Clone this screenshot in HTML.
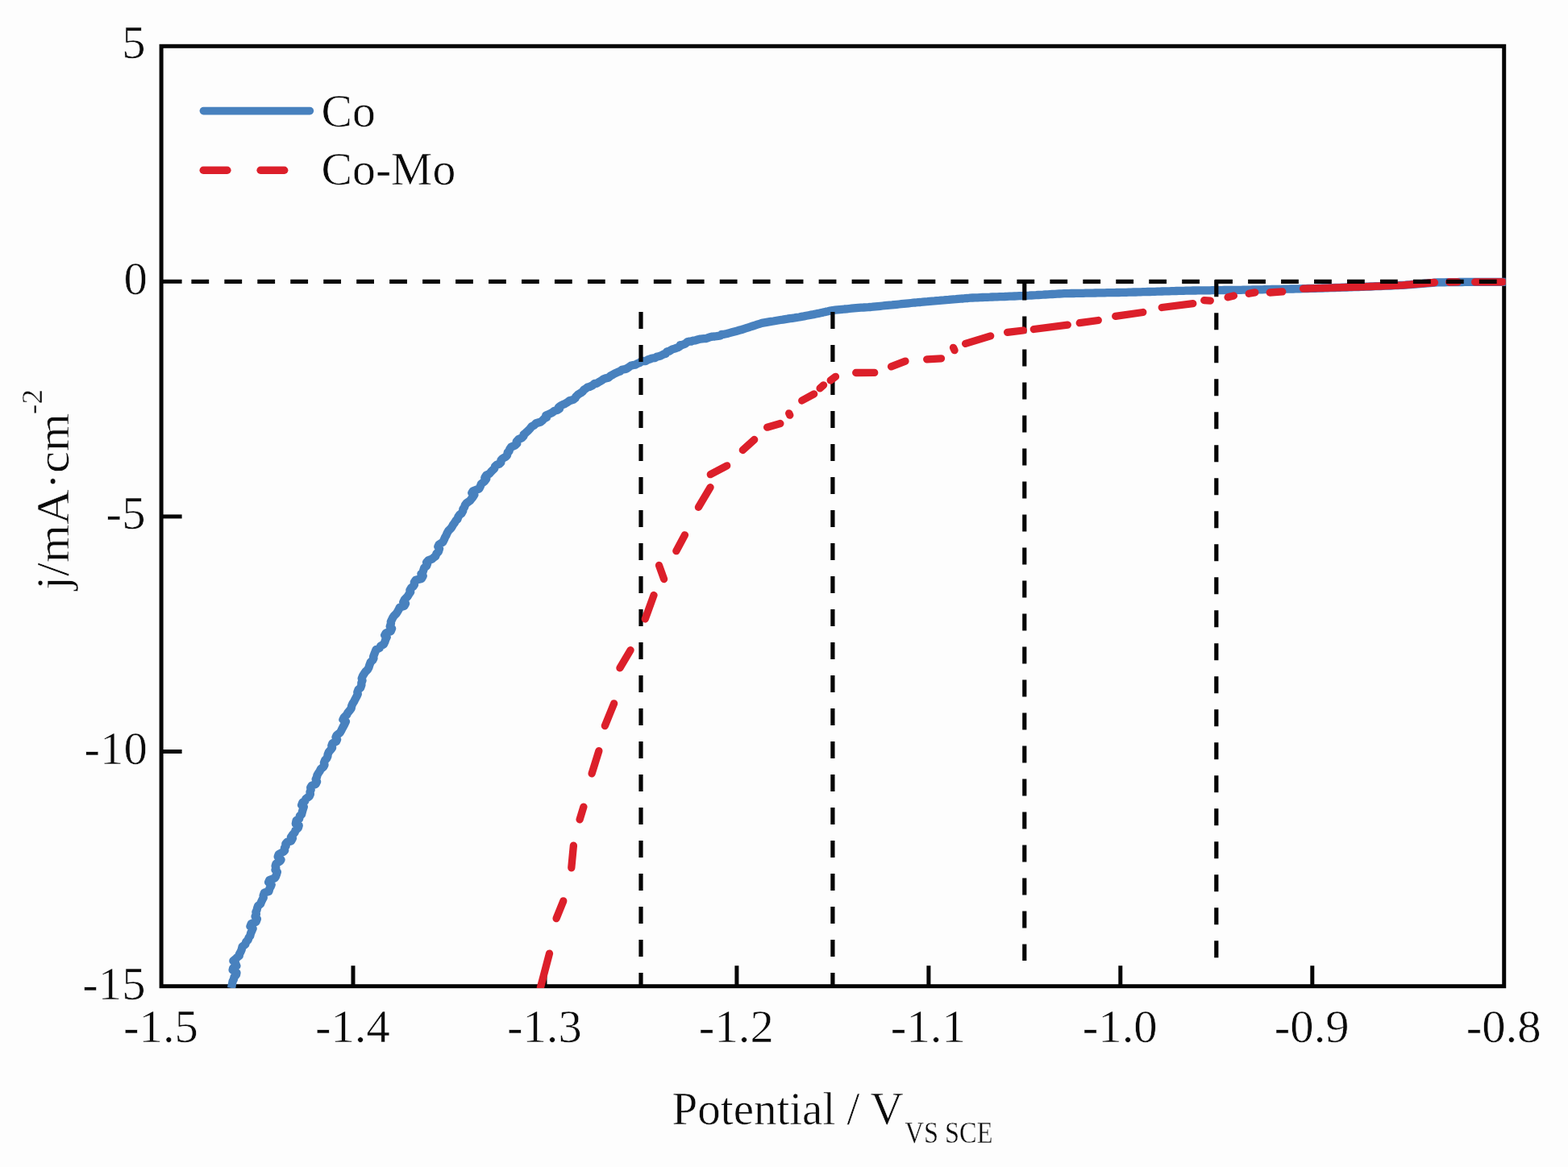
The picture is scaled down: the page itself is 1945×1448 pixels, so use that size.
<!DOCTYPE html>
<html lang="en"><head><meta charset="utf-8">
<title>Polarization curves of Co and Co-Mo</title>
<style>
html,body{margin:0;padding:0;background:#fdfdfd;}
body{width:1945px;height:1448px;overflow:hidden;}
svg{display:block;}
text{font-family:"Liberation Serif","DejaVu Serif",serif;fill:#0a0a0a;stroke:#fdfdfd;stroke-width:0.6px;}
.tk{font-size:57px;}
.ttl{font-size:57px;}
.sub{stroke-width:0.35px;}
</style></head><body>
<svg width="1945" height="1448" viewBox="0 0 1945 1448">
<rect x="0" y="0" width="1945" height="1448" fill="#fdfdfd"/>
<defs><clipPath id="plot"><rect x="199.1" y="57.3" width="1668.6" height="1168.6"/></clipPath></defs>
<rect x="200.1" y="57.3" width="1665.6" height="1166.4" fill="none" stroke="#050505" stroke-width="5"/>
<g stroke="#050505" stroke-width="5">
<line x1="438" y1="1223.7" x2="438" y2="1198.2"/>
<line x1="676" y1="1223.7" x2="676" y2="1198.2"/>
<line x1="913.9" y1="1223.7" x2="913.9" y2="1198.2"/>
<line x1="1151.9" y1="1223.7" x2="1151.9" y2="1198.2"/>
<line x1="1389.8" y1="1223.7" x2="1389.8" y2="1198.2"/>
<line x1="1627.8" y1="1223.7" x2="1627.8" y2="1198.2"/>
<line x1="200.1" y1="349.3" x2="225.6" y2="349.3"/>
<line x1="200.1" y1="640.9" x2="225.6" y2="640.9"/>
<line x1="200.1" y1="932.5" x2="225.6" y2="932.5"/>
</g>
<polyline clip-path="url(#plot)" fill="none" stroke="#4881be" stroke-width="10.3" stroke-linejoin="round" stroke-linecap="butt" points="287,1226 287.6,1223.2 288.1,1220.4 288.6,1217.6 289.9,1215.1 290.5,1212.4 293,1209.5 293.5,1206.9 288.6,1203.6 289.1,1201.3 293.4,1198.5 291.9,1194.8 289.3,1192.2 291.6,1190.4 294.6,1187.6 296.9,1185.7 296.9,1183.8 298.6,1180.9 299.7,1178.2 300.6,1174.6 304.3,1171.7 305.2,1168.8 307.6,1166.2 308.6,1163.4 310.2,1161.4 311.1,1157.8 312.3,1155.1 313.6,1152.2 310.4,1149.4 311.7,1146.3 317.6,1143.7 318.9,1140.2 316.6,1137.2 317.9,1134.3 317.4,1131.7 318.5,1129.4 319.1,1126.8 320.2,1123.8 323.1,1121.7 324.2,1118.7 325.5,1116.1 326.8,1113.7 326.6,1111.4 327.9,1107.6 333.4,1106 334.4,1102.4 335.7,1100.2 336.7,1097.8 333.1,1094.6 334.2,1092.1 340.9,1089.5 342,1087.6 342.9,1085.2 343.9,1081.8 341.5,1079.4 342.3,1077.1 341.6,1074.4 342.4,1071.8 347.7,1068.3 348.5,1066.7 344.7,1063 345.6,1060.3 351.4,1056.9 353.2,1055.2 352.9,1052.1 354.7,1049.7 354.3,1047.1 356.2,1044.8 361.1,1043.5 362.9,1040.2 360.9,1038.9 362.8,1036 365.7,1032.8 366.5,1030.3 369.9,1027.2 370.7,1024.3 366.8,1022 367.6,1018 371.1,1016.1 371.9,1012.4 374.1,1010.4 374.9,1007.2 376,1003.6 376.8,1001.1 374.1,999 375.3,995.7 378.3,993.9 379.4,991.1 383.7,988 384.9,985.4 384.5,982.8 385.7,979.9 385.2,977.2 386.7,974.8 391.7,972.9 393.1,969.9 391.7,966.9 393.1,964 393.3,962.2 394.7,959.6 396.6,956.9 397.9,954.3 401.2,951.5 402.5,949 401.9,946.4 403.2,943.2 405.2,941.2 406.4,938.5 406.6,936.1 407.8,933.1 410.8,929.7 412.1,927.8 411.3,925.3 412.4,922.4 417,920 418.1,917.6 416.5,914.8 417.6,912.3 421.7,909.2 423,907 424.5,904 425.8,901.5 427.6,898.2 428.9,895.4 425.4,892.9 426.7,890.2 430,887.1 431.4,884.3 434.3,880.9 435.7,878.8 436.2,875.8 437.6,872.7 439.2,870.4 440.6,867.4 442.6,863.8 443.8,861.2 443.3,859 444.5,855.7 447.2,853.4 448.4,849.9 448.3,847.3 449.5,844.3 448.7,841.8 449.9,838.8 451.8,835.8 453.3,833.5 456,830.9 457.5,828.1 458.2,825.6 459.7,821.7 462.2,819.2 463.5,816.8 463.1,814.8 464.3,811.7 465.2,809.4 466.4,806.2 470.8,804 472.1,801.7 476,799.3 477.5,796.1 478.2,793.7 479.7,790.6 477.2,788.2 478.7,785.5 484.8,783.1 486.1,779.9 483.7,777.4 485,773.5 484.8,771.4 486.1,768.7 487.5,765.9 489,763.8 492,760.8 493.5,758.2 494.4,756.7 495.9,753.6 501.5,751.8 503,749 500.3,747.1 501.8,744.1 504.2,741.5 505.7,739.9 507.7,736.6 509.2,734.5 508.4,732.3 509.9,729.7 512.5,727.7 514,725.4 513.8,722.6 515.6,719.8 522.9,717.9 524.7,714.7 522.4,712.1 524.2,710.6 525.3,707.4 526.2,704.6 529.2,702 530.1,699.5 529.1,697.7 531.2,695.4 535.9,693.7 538,691.8 540.2,690.3 541.4,687.1 543.9,684.4 545.1,680.7 543.3,678.2 544.5,675.8 549.5,672.4 551.1,669 552,666.8 553.5,664.2 554.6,661.6 556.2,658.7 559,655.9 560.8,653.4 562.2,650.8 564,648.5 565.6,645.7 567.4,644.2 568.4,641.3 570.2,638.7 572.5,637 574.3,633.7 574.3,631.7 576.1,629.2 577,626.4 578.7,624.3 583.2,621.1 584.9,618.7 586.6,616.8 588.3,614.1 585.2,611.6 586.8,609.3 594.4,606.4 596,603 596.8,600.7 598.7,599 601.3,596.9 603.3,594 601.3,592.8 603.2,589.7 607.1,587.9 609.1,585.4 611.2,583.2 613.3,581.2 613.9,579 616,576.9 619.3,575.7 621.4,573.7 621.4,571.1 623.5,568.9 627.3,566.7 629,564.9 629.7,561.4 631.5,559.8 632.2,557.3 633.9,554.8 639,552.5 641.3,550.3 640.7,547.9 643,545.3 647.4,543.3 649.6,540.9 649.5,539.2 651.6,537.7 653.6,535.7 655.7,533.7 657.5,531.8 659.7,529.1 662.4,527.7 664.9,525.3 670.8,523.5 673.3,521.3 675.5,519 678,517.8 677.3,515.3 679.8,514.5 685.1,511.8 687.6,509.9 691.4,508.8 694,507.2 692.8,505.4 695.4,503.6 698.3,502 700.9,500.9 703.9,499.1 706.4,497.3 711.1,495.9 713.6,494 714.4,492.1 716.9,489.7 720.2,487.7 722.7,485.9 724.4,483.6 726.9,482 728.6,480.5 731.1,480 734.9,478.3 737.4,475.9 739.9,475.8 742.4,474.3 744.8,473 747.3,471.4 748.6,470.3 751.2,469.4 754.7,468.7 757.3,466.4 759.7,465.2 762.2,463.7 764.9,462.4 767.4,461.3 769.2,460.6 771.6,458.7 776.2,457.9 778.6,456.6 779.9,455.7 782.5,453.8 785.6,453 788.2,452.6 790.9,451 793.5,450.1 794.4,449.2 797.1,448 800.7,448.2 803.4,446.5 805.9,445.7 808.7,444.5 812.4,444.1 815.1,442.5 816.7,442.2 819.4,441.5 823.2,439.5 826,438.7 827.3,436.2 830.1,435.7 834,433.4 836.8,432.6 840.8,431.2 843.3,429.8 843.8,428.1 846.4,427.8 849.9,426.6 852.5,424.3 854.7,423.7 857.5,423.5 859.9,422.7 862.7,422.3 866.1,421.3 868.9,420.6 873.3,420.2 876.1,420 877.7,419.4 880.7,418.2 883.5,417.6 886.5,417.5 890.9,416.9 893.9,416.5 895.1,414.9 898.1,414.8 901.8,414 904.9,413.1 907.9,412.3 910.9,411.5 913.9,410.7 917,409.8 920,409 922.8,408.1 925.6,407.2 928.3,406.3 931.1,405.4 933.9,404.5 936.7,403.6 939.4,402.7 942.2,401.8 945,400.9 947.9,400.4 950.8,399.9 953.6,399.4 956.5,398.9 959.4,398.5 962.2,398 965.1,397.5 968,397 970.9,396.6 973.9,396.1 976.8,395.7 979.7,395.2 982.6,394.8 985.5,394.4 988.5,393.9 991.4,393.5 994.3,392.9 997.3,392.4 1000.2,391.8 1003.2,391.2 1006.1,390.6 1009.1,390.1 1012,389.5 1015,388.9 1018,388.2 1021,387.6 1024,386.9 1027,386.3 1030,385.6 1033,385 1035.9,384.7 1038.8,384.4 1041.7,384.1 1044.6,383.8 1047.5,383.5 1050.5,383.3 1053.4,383 1056.3,382.7 1059.2,382.4 1062.1,382.1 1065,381.8 1068,381.6 1071,381.5 1074,381.3 1077,381.2 1080,381 1082.9,380.7 1085.9,380.4 1088.8,380.1 1091.8,379.8 1094.7,379.5 1097.6,379.2 1100.6,378.9 1103.5,378.6 1106.5,378.4 1109.4,378.1 1112.4,377.8 1115.3,377.5 1118.2,377.2 1121.2,376.9 1124.1,376.6 1127.1,376.3 1130,376 1132.9,375.7 1135.8,375.5 1138.7,375.2 1141.7,375 1144.6,374.7 1147.5,374.4 1150.4,374.2 1153.3,373.9 1156.2,373.6 1159.2,373.4 1162.1,373.1 1165,372.9 1167.9,372.6 1170.9,372.4 1173.8,372.1 1176.8,371.9 1179.7,371.6 1182.7,371.4 1185.7,371.2 1188.6,370.9 1191.6,370.7 1194.6,370.5 1197.5,370.2 1200.5,370 1203.4,369.7 1206.4,369.5 1209.5,369.4 1212.5,369.3 1215.6,369.1 1218.6,369 1221.7,368.9 1224.7,368.8 1227.8,368.7 1230.8,368.5 1233.9,368.4 1236.9,368.3 1240,368.2 1243,368.1 1246.1,368 1249.1,367.8 1252.2,367.7 1255.2,367.6 1258.3,367.5 1261.3,367.4 1264.4,367.2 1267.4,367.1 1270.5,367 1273.4,366.8 1276.3,366.7 1279.2,366.5 1282.1,366.3 1285.1,366.2 1288,366 1290.9,365.8 1293.8,365.7 1296.7,365.5 1299.6,365.4 1302.5,365.2 1305.4,365 1308.4,364.9 1311.3,364.7 1314.2,364.5 1317.1,364.4 1320,364.2 1323,364.1 1325.9,364.1 1328.9,364 1331.8,364 1334.8,363.9 1337.8,363.9 1340.7,363.8 1343.7,363.8 1346.7,363.7 1349.6,363.7 1352.6,363.6 1355.5,363.6 1358.5,363.5 1361.5,363.4 1364.4,363.4 1367.4,363.3 1370.3,363.3 1373.3,363.2 1376.3,363.2 1379.2,363.1 1382.2,363.1 1385.2,363 1388.1,363 1391.1,362.9 1394,362.9 1397,362.8 1400,362.7 1402.9,362.6 1405.9,362.5 1408.8,362.5 1411.8,362.4 1414.8,362.3 1417.7,362.2 1420.7,362.1 1423.7,362 1426.6,362 1429.6,361.9 1432.5,361.8 1435.5,361.7 1438.5,361.6 1441.4,361.5 1444.4,361.4 1447.3,361.4 1450.3,361.3 1453.3,361.2 1456.2,361.1 1459.2,361 1462.2,360.9 1465.1,360.9 1468.1,360.8 1471,360.7 1474,360.6 1477,360.6 1479.9,360.5 1482.9,360.5 1485.8,360.4 1488.8,360.4 1491.8,360.4 1494.7,360.3 1497.7,360.3 1500.7,360.3 1503.6,360.2 1506.6,360.2 1509.5,360.1 1512.5,360.1 1515.5,360.1 1518.4,360 1521.4,360 1524.3,359.9 1527.3,359.9 1530.3,359.9 1533.2,359.8 1536.2,359.8 1539.2,359.8 1542.1,359.7 1545.1,359.7 1548,359.6 1551,359.6 1554,359.5 1556.9,359.5 1559.9,359.4 1562.8,359.4 1565.8,359.3 1568.7,359.2 1571.7,359.2 1574.6,359.1 1577.6,359 1580.5,359 1583.5,358.9 1586.4,358.9 1589.4,358.8 1592.3,358.7 1595.3,358.7 1598.2,358.6 1601.2,358.5 1604.1,358.5 1607.1,358.4 1610,358.4 1613,358.3 1616.1,358.2 1619.2,358.1 1622.2,358 1625.3,357.9 1628.4,357.8 1631.5,357.8 1634.6,357.7 1637.7,357.6 1640.8,357.5 1643.8,357.4 1646.9,357.3 1650,357.2 1652.9,357.1 1655.9,357 1658.8,356.9 1661.8,356.8 1664.7,356.7 1667.6,356.6 1670.6,356.5 1673.5,356.4 1676.5,356.3 1679.4,356.2 1682.4,356.1 1685.3,356 1688.2,355.9 1691.2,355.8 1694.1,355.7 1697.1,355.6 1700,355.5 1703.1,355.4 1706.2,355.2 1709.2,355.1 1712.3,355 1715.4,354.8 1718.5,354.7 1721.5,354.6 1724.6,354.5 1727.7,354.3 1730.8,354.2 1733.8,354.1 1736.9,353.9 1740,353.8 1743.1,353.6 1746.1,353.3 1749.2,353.1 1752.3,352.8 1755.4,352.6 1758.4,352.3 1761.5,352.1 1764.6,351.9 1767.6,351.6 1770.7,351.4 1773.8,351.1 1776.9,350.9 1779.9,350.6 1783,350.4 1786.1,350.4 1789.2,350.3 1792.2,350.3 1795.3,350.2 1798.4,350.2 1801.5,350.1 1804.6,350.1 1807.7,350.1 1810.8,350 1813.8,350 1816.9,349.9 1820,349.9 1823,349.9 1826,349.9 1829,349.9 1832,349.9 1835,349.9 1838,349.9 1841,349.9 1844,349.9 1847,349.8 1850,349.8 1853,349.8 1856,349.8 1859,349.8 1862,349.8 1865,349.8 1868,349.8"/>
<g stroke="#050505" stroke-width="5.2" fill="none" stroke-dasharray="21 20">
<line x1="795" y1="387" x2="795" y2="1223.7"/>
<line x1="1032.9" y1="387" x2="1032.9" y2="1223.7"/>
<line x1="1270.8" y1="351.6" x2="1270.8" y2="1192"/>
<line x1="1508.8" y1="347.2" x2="1508.8" y2="1192"/>
</g>
<g clip-path="url(#plot)" fill="none" stroke="#dc1f2a" stroke-width="9.3" stroke-linecap="round">
<line x1="670.4" y1="1225.4" x2="681.5" y2="1183.1"/>
<line x1="690.1" y1="1139.6" x2="698.8" y2="1117.9"/>
<line x1="708.8" y1="1076.8" x2="711.4" y2="1049.2"/>
<line x1="719.1" y1="1016.9" x2="723.9" y2="1001.1"/>
<line x1="734.1" y1="959.9" x2="742.9" y2="931.6"/>
<line x1="750.4" y1="900.6" x2="761.6" y2="872.9"/>
<line x1="768.9" y1="828.8" x2="782.1" y2="806.7"/>
<line x1="800.3" y1="768" x2="811" y2="738.5"/>
<line x1="823.6" y1="718.5" x2="817.5" y2="701.5"/>
<line x1="838.8" y1="683.7" x2="849.5" y2="663.8"/>
<line x1="866.4" y1="629.3" x2="881.1" y2="604.7"/>
<line x1="881.3" y1="588.7" x2="901.7" y2="577.8"/>
<line x1="921.3" y1="558.5" x2="935.7" y2="545.5"/>
<line x1="951.6" y1="530.2" x2="967.9" y2="525.5"/>
<line x1="978.7" y1="512.8" x2="979.8" y2="515.2"/>
<line x1="994.7" y1="497" x2="1009.7" y2="488.9"/>
<line x1="1017.1" y1="481.8" x2="1021.6" y2="477.8"/>
<line x1="1030.2" y1="472" x2="1036.5" y2="467.3"/>
<line x1="1061.7" y1="462.5" x2="1084.7" y2="462.4"/>
<line x1="1105.5" y1="454.9" x2="1123" y2="448.1"/>
<line x1="1149.7" y1="445.8" x2="1167.5" y2="444.8"/>
<line x1="1182.5" y1="431.3" x2="1184.1" y2="434.7"/>
<line x1="1197.6" y1="426.4" x2="1228.7" y2="416.9"/>
<line x1="1249.6" y1="412.3" x2="1269.3" y2="410"/>
<line x1="1282.3" y1="408.5" x2="1324.3" y2="403.1"/>
<line x1="1339.2" y1="400.7" x2="1362.3" y2="397.5"/>
<line x1="1383.7" y1="392.3" x2="1417.8" y2="387.5"/>
<line x1="1441.2" y1="381.5" x2="1479.8" y2="376.7"/>
<line x1="1493.7" y1="372.7" x2="1501.3" y2="373.1"/>
<line x1="1523.1" y1="368.8" x2="1530.4" y2="366.9"/>
<line x1="1549.2" y1="364.3" x2="1556.8" y2="362.9"/>
<line x1="1575.2" y1="363" x2="1590.8" y2="361.9"/>
<line x1="1797.7" y1="350" x2="1808.3" y2="349.9"/>
<line x1="1829.7" y1="349.9" x2="1864.3" y2="349.8"/>
<polyline stroke-linejoin="round" points="1616.5,358.2 1650,357.2 1700,355.5 1740,353.8 1779.5,350.5"/>
</g>
<line x1="237.4" y1="349.4" x2="1865.7" y2="349.4" stroke="#050505" stroke-width="5.2" stroke-dasharray="21.8 19.16"/>
<text class="tk" transform="translate(199.5 1293.3) scale(1.03 1)" text-anchor="middle">-1.5</text>
<text class="tk" transform="translate(437.4 1293.3) scale(1.03 1)" text-anchor="middle">-1.4</text>
<text class="tk" transform="translate(675.4 1293.3) scale(1.03 1)" text-anchor="middle">-1.3</text>
<text class="tk" transform="translate(913.3 1293.3) scale(1.03 1)" text-anchor="middle">-1.2</text>
<text class="tk" transform="translate(1151.3 1293.3) scale(1.03 1)" text-anchor="middle">-1.1</text>
<text class="tk" transform="translate(1389.2 1293.3) scale(1.03 1)" text-anchor="middle">-1.0</text>
<text class="tk" transform="translate(1627.2 1293.3) scale(1.03 1)" text-anchor="middle">-0.9</text>
<text class="tk" transform="translate(1865.1 1293.3) scale(1.03 1)" text-anchor="middle">-0.8</text>
<text class="tk" transform="translate(180.5 72) scale(1.03 1)" text-anchor="end">5</text>
<text class="tk" transform="translate(182.8 365.2) scale(1.03 1)" text-anchor="end">0</text>
<text class="tk" transform="translate(180.5 656.2) scale(1.03 1)" text-anchor="end">-5</text>
<text class="tk" transform="translate(182.8 948.1) scale(1.03 1)" text-anchor="end">-10</text>
<text class="tk" transform="translate(180.5 1240) scale(1.03 1)" text-anchor="end">-15</text>
<line x1="252.4" y1="137.6" x2="384.4" y2="137.6" stroke="#4881be" stroke-width="9.6" stroke-linecap="round"/>
<line x1="252.2" y1="211.2" x2="281.9" y2="211.2" stroke="#dc1f2a" stroke-width="9.4" stroke-linecap="round"/>
<line x1="323.1" y1="211.2" x2="352.7" y2="211.2" stroke="#dc1f2a" stroke-width="9.4" stroke-linecap="round"/>
<text class="tk" transform="translate(398.6 156.6) scale(1.012 1)" text-anchor="start">Co</text>
<text class="tk" transform="translate(398.6 228.8) scale(1.012 1)" text-anchor="start">Co-Mo</text>
<text class="ttl" transform="translate(833.6 1395) scale(1.0 1)" text-anchor="start">Potential / V</text>
<text class="sub" transform="translate(1122.6 1418.2) scale(0.875 1)" font-size="37">VS SCE</text>
<text class="ttl" transform="translate(85.3 731.8) rotate(-90) scale(1.064 1)" x="0" y="0">j/mA·cm<tspan class="sub" font-size="35" dy="-33" dx="-1">-2</tspan></text>
</svg>
</body></html>
